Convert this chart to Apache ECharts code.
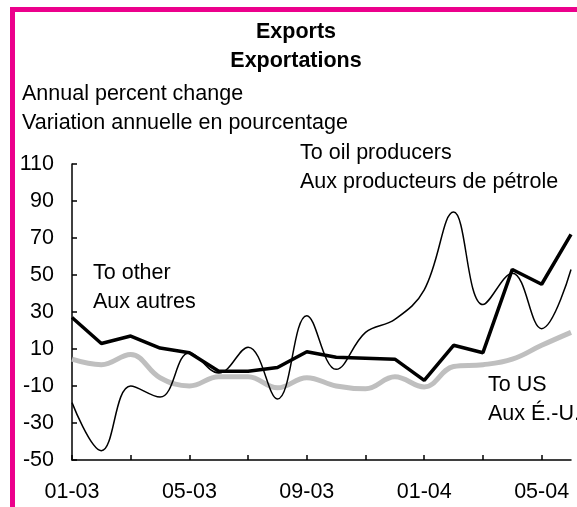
<!DOCTYPE html>
<html>
<head>
<meta charset="utf-8">
<script src="https://cdn.jsdelivr.net/npm/echarts@6/dist/echarts.min.js"></script>
<style>
    html, body {margin: 0; padding: 0; background: #fff;}
    #chart {width: 577px; height: 507px;}
</style>
</head>
<body>
<div id="chart"></div>
<script>
const months = ['01-03', '02-03', '03-03', '04-03', '05-03', '06-03', '07-03', '08-03', '09-03',
    '10-03', '11-03', '12-03', '01-04', '02-04', '03-04', '04-04', '05-04', '06-04'];
const toOther = [27, 13, 17, 10.5, 8, -2, -2, 0, 8.5, 5.5, 5, 4.5, -7, 12, 8, 53, 45, 72];
const toOil = [-19, -45, -10, -16, 8, -3, 11, -17, 28, -1, 19, 26, 42, 84, 34, 51, 21, 53];
const toUS = [4.5, 1.5, 7, -5.5, -10, -5, -5, -11, -5.5, -10, -11.5, -5, -10.5, 0.5, 1.5, 4.5, 12, 19];
const yMin = -50, yMax = 110, yStep = 20;

const font = 'Liberation Sans, Arial, sans-serif';
const pink = '#EC008C';

function label(text, x, y, opts = {}) {
    return {
        type: 'text',
        x: x,
        y: y,
        style: Object.assign({
            text: text,
            font: '21.5px ' + font,
            fill: '#000',
            textVerticalAlign: 'middle'
        }, opts)
    };
}

const chart = echarts.init(document.getElementById('chart'), null, {renderer: 'canvas'});
chart.setOption({
    backgroundColor: '#fff',
    animation: false,
    grid: {left: 72, right: 6, top: 164, bottom: 47},
    xAxis: {
        type: 'category',
        data: months,
        boundaryGap: false,
        axisLine: {onZero: false, lineStyle: {color: '#000', width: 1.5}},
        axisTick: {inside: true, length: 5, interval: 1, lineStyle: {color: '#000', width: 1.5}},
        axisLabel: {interval: 3, margin: 21, color: '#000', fontSize: 21.5, fontFamily: font},
        splitLine: {show: false}
    },
    yAxis: {
        type: 'value',
        min: yMin,
        max: yMax,
        interval: yStep,
        axisLine: {show: true, lineStyle: {color: '#000', width: 1.5}},
        axisTick: {show: true, inside: true, length: 5, lineStyle: {color: '#000', width: 1.5}},
        axisLabel: {margin: 18, color: '#000', fontSize: 21.5, fontFamily: font},
        splitLine: {show: false}
    },
    series: [
        {
            name: 'To US',
            type: 'line',
            data: toUS,
            smooth: 0.4,
            symbol: 'none',
            lineStyle: {color: '#BFBFBF', width: 5}
        },
        {
            name: 'To oil producers',
            type: 'line',
            data: toOil,
            smooth: 0.4,
            symbol: 'none',
            lineStyle: {color: '#000', width: 1.5}
        },
        {
            name: 'To other',
            type: 'line',
            data: toOther,
            symbol: 'none',
            lineStyle: {color: '#000', width: 3.5}
        }
    ],
    graphic: [
        {
            type: 'rect',
            shape: {x: 12.5, y: 9.5, width: 700, height: 700},
            style: {fill: 'none', stroke: pink, lineWidth: 5}
        },
        label('Exports', 296, 32, {font: 'bold 21.5px ' + font, textAlign: 'center'}),
        label('Exportations', 296, 61, {font: 'bold 21.5px ' + font, textAlign: 'center'}),
        label('Annual percent change', 22, 94),
        label('Variation annuelle en pourcentage', 22, 123),
        label('To oil producers', 300, 153),
        label('Aux producteurs de pétrole', 300, 182),
        label('To other', 93, 273),
        label('Aux autres', 93, 302),
        label('To US', 488, 385),
        label('Aux É.-U.', 488, 414)
    ]
});
</script>
</body>
</html>
